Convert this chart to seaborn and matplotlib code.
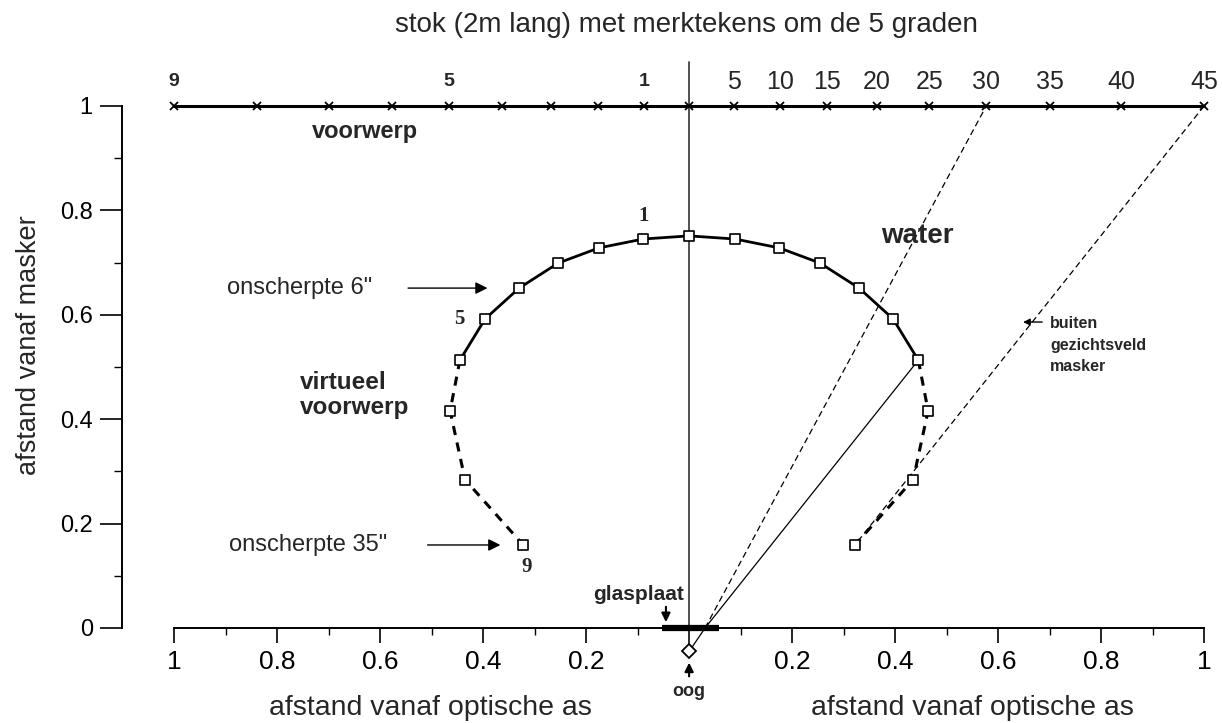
import numpy as np
import pandas as pd
import matplotlib
matplotlib.use("Agg")
import matplotlib.pyplot as plt
import seaborn as sns

# ---- data -------------------------------------------------------------
# stick marks (distance from optical axis) at 0,5,...,45 degrees
stick_x_right = [0.0, 0.087, 0.176, 0.268, 0.364, 0.466, 0.577, 0.700, 0.839, 1.0]
stick_y = 1.0
angle_labels = ["", "5", "10", "15", "20", "25", "30", "35", "40", "45"]
index_labels = ["", "1", "", "", "", "5", "", "", "", "9"]

# virtual image of the stick marks (right half; left is the mirror)
image_x_right = [0.0, 0.089, 0.175, 0.254, 0.330, 0.396, 0.445, 0.464, 0.435, 0.322]
image_y = [0.751, 0.745, 0.728, 0.699, 0.651, 0.592, 0.513, 0.416, 0.284, 0.159]
sharp_until = 6  # solid part up to this index, dashed beyond

eye = (0.0, -0.045)
plate_hit = (0.031, 0.0)
glass_x = [-0.053, 0.058]

x_ticks = [-1, -0.8, -0.6, -0.4, -0.2, 0, 0.2, 0.4, 0.6, 0.8, 1]
x_tick_labels = ["1", "0.8", "0.6", "0.4", "0.2", "", "0.2", "0.4", "0.6", "0.8", "1"]
y_ticks = [0, 0.2, 0.4, 0.6, 0.8, 1]
y_tick_labels = ["0", "0.2", "0.4", "0.6", "0.8", "1"]

# ---- style ------------------------------------------------------------
sns.set_theme(style="white")
plt.rcParams['font.family'] = ['Liberation Sans', 'DejaVu Sans']
narrow = ['Liberation Sans Narrow', 'Liberation Sans', 'DejaVu Sans']

fig = plt.figure(figsize=(12.22, 7.23), dpi=100)
W, H = 1222, 723
ax = fig.add_axes([122 / W, 95 / H, (1215 - 122) / W, (628 - 50) / H])
ax.set_xlim(-1.101, 1.021)
ax.set_ylim(0, 1.107)

# stick
stick_df = pd.DataFrame({
    "x": [-v for v in stick_x_right[::-1]] + stick_x_right[1:],
    "y": [stick_y] * (2 * len(stick_x_right) - 1),
})
sns.lineplot(data=stick_df, x="x", y="y", sort=False, color="black", lw=2.2,
             marker="x", markersize=6, markeredgewidth=1.3, markeredgecolor="black",
             ax=ax, clip_on=False)

# optical axis
ax.plot([0, 0], [-0.033, 1.084], color="#333333", lw=1.2, clip_on=False, zorder=1)

# virtual image curve
for sign in (-1, 1):
    xs = [sign * v for v in image_x_right]
    solid = pd.DataFrame({"x": xs[:sharp_until + 1], "y": image_y[:sharp_until + 1]})
    dashed = pd.DataFrame({"x": xs[sharp_until:], "y": image_y[sharp_until:]})
    sns.lineplot(data=solid, x="x", y="y", sort=False, color="black", lw=2.0, ax=ax)
    sns.lineplot(data=dashed, x="x", y="y", sort=False, color="black", lw=2.2,
                 linestyle=(0, (3, 2.5)), ax=ax)
pts = pd.DataFrame({"x": [-v for v in image_x_right[1:]] + image_x_right,
                    "y": image_y[1:] + image_y})
sns.scatterplot(data=pts, x="x", y="y", marker="s", s=55, color="white",
                edgecolor="black", linewidth=1.2, zorder=5, ax=ax)

# rays
ax.plot([eye[0], plate_hit[0]], [eye[1], plate_hit[1]], color="black", lw=0.9,
        clip_on=False)
ax.plot([plate_hit[0], stick_x_right[6]], [plate_hit[1], stick_y], color="black",
        lw=0.9, linestyle=(0, (5, 3)))
ax.plot([plate_hit[0], image_x_right[sharp_until]], [plate_hit[1], image_y[sharp_until]],
        color="black", lw=0.9)
ax.plot([stick_x_right[9], image_x_right[9]], [stick_y, image_y[9]], color="black",
        lw=0.9, linestyle=(0, (5, 3)))

# glass plate and eye
ax.plot(glass_x, [0, 0], color="black", lw=4.5, solid_capstyle="butt", clip_on=False,
        zorder=6)
ax.plot([eye[0]], [eye[1]], marker="D", markersize=7, markerfacecolor="white",
        markeredgecolor="black", markeredgewidth=1.3, clip_on=False, zorder=7)

# axes styling
for s in ("top", "right"):
    ax.spines[s].set_visible(False)
ax.spines["left"].set_bounds(0, 1)
ax.spines["bottom"].set_bounds(-1, 1)
for s in ("left", "bottom"):
    ax.spines[s].set_color("black")
    ax.spines[s].set_linewidth(1.4)
ax.set_xticks(x_ticks)
ax.set_xticklabels(x_tick_labels, fontfamily=narrow, fontsize=19)
ax.set_xticks([v + 0.1 for v in x_ticks[:-1]], minor=True)
ax.set_yticks(y_ticks)
ax.set_yticklabels(y_tick_labels, fontsize=17)
ax.set_yticks([v + 0.1 for v in y_ticks[:-1]], minor=True)
ax.tick_params(axis="x", which="major", direction="out", length=11, width=1.2,
               color="black", pad=5, labelcolor="black", bottom=True)
ax.tick_params(axis="x", which="minor", direction="out", length=5, width=1.0,
               color="black", bottom=True)
ax.tick_params(axis="y", which="major", direction="out", length=16, width=1.2,
               color="black", pad=5, labelcolor="black", left=True)
ax.tick_params(axis="y", which="minor", direction="out", length=6, width=1.0,
               color="black", left=True)
ax.set_xlabel("")
ax.set_ylabel("")

# stick labels
for xv, lab in zip(stick_x_right, angle_labels):
    if lab:
        ax.text(xv, 1.046, lab, ha="center", va="center", fontsize=18, clip_on=False)
for xv, lab in zip(stick_x_right, index_labels):
    if lab:
        ax.text(-xv, 1.046, lab, ha="center", va="center", fontsize=14,
                fontweight="bold", clip_on=False)

ax.text(-0.005, 1.155, "stok (2m lang) met merktekens om de 5 graden", ha="center",
        va="center", fontsize=20, clip_on=False)
ax.text(-0.63, 0.95, "voorwerp", ha="center", va="center", fontsize=17,
        fontweight="bold")
ax.text(0.443, 0.751, "water", ha="center", va="center", fontsize=20,
        fontweight="bold")
ax.text(-0.755, 0.446, "virtueel\nvoorwerp", ha="left", va="center", fontsize=17.5,
        fontweight="bold", linespacing=1.15)
ax.text(0.701, 0.542, "buiten\ngezichtsveld\nmasker", ha="left", va="center",
        fontsize=11.5, fontweight="bold", linespacing=1.55)

# curve point labels
ax.text(-image_x_right[1], 0.79, "1", ha="center", va="center", fontsize=15,
        fontweight="bold", family="Liberation Serif")
ax.text(-0.447, image_y[5], "5", ha="center", va="center", fontsize=15,
        fontweight="bold", family="Liberation Serif")
ax.text(-0.315, 0.117, "9", ha="center", va="center", fontsize=15,
        fontweight="bold", family="Liberation Serif")

# blur annotations
ax.annotate("", xy=(-0.386, image_y[4]), xytext=(-0.551, image_y[4]),
            arrowprops=dict(arrowstyle="-|>", color="black", lw=1.0,
                            mutation_scale=18))
ax.text(-0.616, image_y[4], 'onscherpte 6"', ha="right", va="center", fontsize=17)
ax.annotate("", xy=(-0.361, image_y[9]), xytext=(-0.513, image_y[9]),
            arrowprops=dict(arrowstyle="-|>", color="black", lw=1.0,
                            mutation_scale=18))
ax.text(-0.586, image_y[9], 'onscherpte 35"', ha="right", va="center", fontsize=17)
ax.annotate("", xy=(0.643, 0.586), xytext=(0.691, 0.586),
            arrowprops=dict(arrowstyle="-|>", color="black", lw=1.0,
                            mutation_scale=10))

# glass plate / eye labels
ax.text(-0.099, 0.064, "glasplaat", ha="center", va="center", fontsize=15,
        fontweight="bold")
ax.annotate("", xy=(-0.045, 0.006), xytext=(-0.045, 0.046),
            arrowprops=dict(arrowstyle="-|>", color="black", lw=1.5,
                            mutation_scale=13), annotation_clip=False)
ax.annotate("", xy=(0.0, -0.061), xytext=(0.0, -0.098),
            arrowprops=dict(arrowstyle="-|>", color="black", lw=1.5,
                            mutation_scale=13), annotation_clip=False)
ax.text(0.0, -0.122, "oog", ha="center", va="center", fontsize=13,
        fontweight="bold", clip_on=False)

# axis titles
ax.text(-0.503, -0.153, "afstand vanaf optische as", ha="center", va="center",
        fontsize=20.5, family=narrow, clip_on=False)
ax.text(0.55, -0.153, "afstand vanaf optische as", ha="center", va="center",
        fontsize=20.5, family=narrow, clip_on=False)
fig.text(29 / W, 1 - 345 / H, "afstand vanaf masker", rotation=90, ha="center",
         va="center", fontsize=19.5)

fig.savefig("out.png", dpi=100, facecolor="white")
